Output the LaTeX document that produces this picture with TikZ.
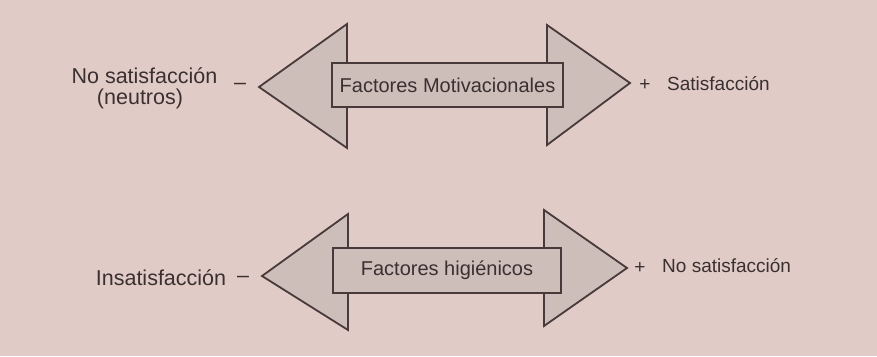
\documentclass[tikz,border=0pt]{standalone}
\usepackage{fontspec}
\setmainfont{Liberation Sans}
\definecolor{bgpaper}{RGB}{224,203,199}
\definecolor{headfill}{RGB}{206,190,186}
\definecolor{ink}{RGB}{72,58,58}
\definecolor{txt}{RGB}{58,48,48}
\tikzset{
  headshape/.style={fill=headfill, draw=ink, line width=1.8pt, line join=miter},
  labelbox/.style={draw=ink, fill=headfill, line width=1.8pt, inner sep=0pt, text=txt, font=\fontsize{20}{24}\selectfont},
  lefttext/.style={text=txt, font=\fontsize{21.5}{23}\selectfont, inner sep=0pt},
  righttext/.style={text=txt, font=\fontsize{19}{22}\selectfont, inner sep=0pt}
}
\begin{document}
\begin{tikzpicture}[x=1pt,y=-1pt]
\fill[bgpaper] (0,0) rectangle (877,356);
\useasboundingbox (0,0) rectangle (877,356);
% top double arrow
\filldraw[headshape] (259,87) -- (347,24) -- (347,148) -- cycle;
\filldraw[headshape] (630,83) -- (547,25) -- (547,145) -- cycle;
\node[labelbox, minimum width=231pt, minimum height=44pt] (motiv) at (447.5,85) {Factores Motivacionales};
% bottom double arrow
\filldraw[headshape] (262,276) -- (348,214) -- (348,330) -- cycle;
\filldraw[headshape] (627,268) -- (544,210) -- (544,326) -- cycle;
\node[labelbox, minimum width=228pt, minimum height=45pt] (higien) at (447,270.5) {Factores higiénicos};
% labels top
\node[lefttext] (nosat) at (144.5,76) {No satisfacción};
\node[lefttext] (neutros) at (140,99) {(neutros)};
\node[lefttext] (minusA) at (240,86) {–};
\node[righttext] (plusA) at (645,85) {+};
\node[righttext, anchor=west] (sat) at (667,84) {Satisfacción};
% labels bottom
\node[lefttext] (insat) at (161,278) {Insatisfacción};
\node[lefttext] (minusB) at (243,279) {–};
\node[righttext] (plusB) at (640,268) {+};
\node[righttext, anchor=west] (nosatB) at (662,266) {No satisfacción};
\end{tikzpicture}
\end{document}
